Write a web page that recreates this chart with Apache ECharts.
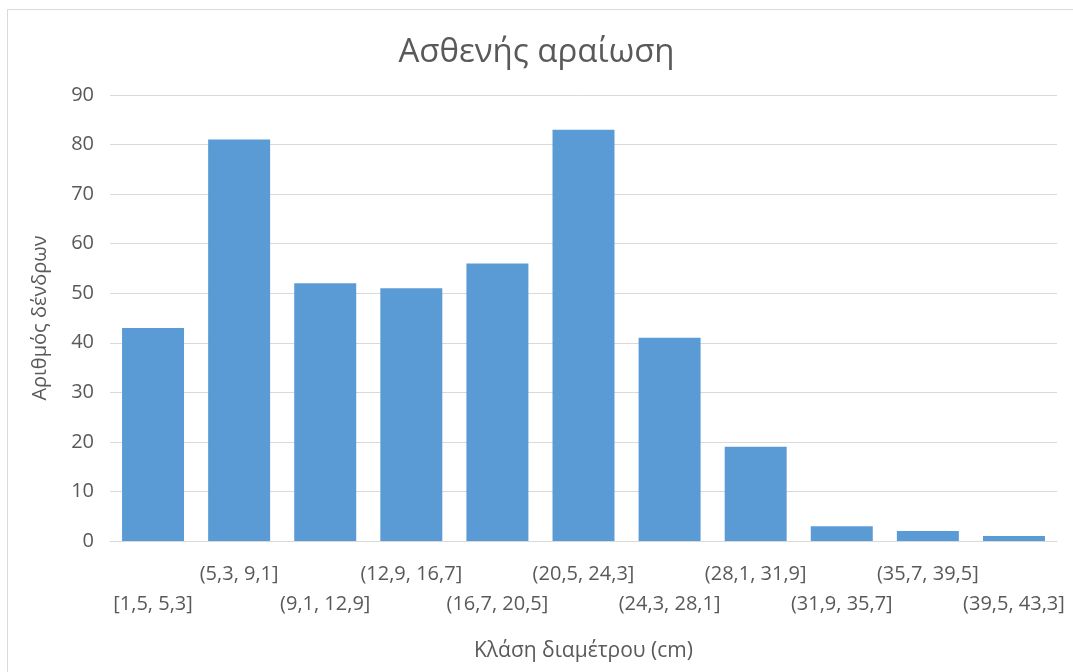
<!DOCTYPE html>
<html>
<head>
<meta charset="utf-8">
<script src="https://cdn.jsdelivr.net/npm/echarts@6/dist/echarts.min.js"></script>
<style>
  html, body { margin: 0; padding: 0; background: #fff; }
  #chart { width: 1073px; height: 672px; }
</style>
</head>
<body>
<div id="chart"></div>
<script>
// Diameter classes (cm) and the number of trees counted in each
const categories = [
  '[1,5, 5,3]', '(5,3, 9,1]', '(9,1, 12,9]', '(12,9, 16,7]', '(16,7, 20,5]',
  '(20,5, 24,3]', '(24,3, 28,1]', '(28,1, 31,9]', '(31,9, 35,7]', '(35,7, 39,5]',
  '(39,5, 43,3]'
];
const treeCounts = [43, 81, 52, 51, 56, 83, 41, 19, 3, 2, 1];

const FONT = '"Open Sans", "Noto Sans", sans-serif';
const TEXT = '#595959';

const chart = echarts.init(document.getElementById('chart'));
chart.setOption({
  animation: false,
  backgroundColor: '#fff',
  graphic: [{
    type: 'rect',
    shape: { x: 7.5, y: 9.5, width: 1100, height: 700 },
    style: { fill: 'none', stroke: '#d9d9d9', lineWidth: 1 },
    silent: true
  }],
  title: {
    text: 'Ασθενής αραίωση',
    left: 'center',
    top: 31,
    textStyle: { fontFamily: FONT, fontSize: 33, fontWeight: 'normal', color: TEXT }
  },
  grid: { left: 110, right: 16, top: 95, bottom: 131, containLabel: false },
  xAxis: {
    type: 'category',
    data: categories,
    name: 'Κλάση διαμέτρου (cm)',
    nameLocation: 'middle',
    nameGap: 100,
    nameTextStyle: { fontFamily: FONT, fontSize: 21, color: TEXT },
    axisLine: { lineStyle: { color: '#d9d9d9' } },
    axisTick: { show: false },
    axisLabel: {
      interval: 0,
      hideOverlap: false,
      margin: 18,
      fontFamily: FONT,
      fontSize: 20,
      color: TEXT,
      lineHeight: 30,
      verticalAlign: 'top',
      // staggered two-row labels: even classes drop to the second row
      formatter: (v, i) => (i % 2 === 0 ? '\n' + v : v)
    }
  },
  yAxis: {
    type: 'value',
    min: 0,
    max: 90,
    interval: 10,
    name: 'Αριθμός δένδρων',
    nameLocation: 'middle',
    nameGap: 60,
    nameTextStyle: { fontFamily: FONT, fontSize: 20, color: TEXT },
    axisLine: { show: false },
    axisTick: { show: false },
    axisLabel: { fontFamily: FONT, fontSize: 20, color: TEXT, margin: 16 },
    splitLine: { lineStyle: { color: '#d9d9d9', width: 1 } }
  },
  series: [{
    type: 'bar',
    data: treeCounts,
    barCategoryGap: '28%',
    itemStyle: { color: '#5b9bd5' }
  }]
});
</script>
</body>
</html>
